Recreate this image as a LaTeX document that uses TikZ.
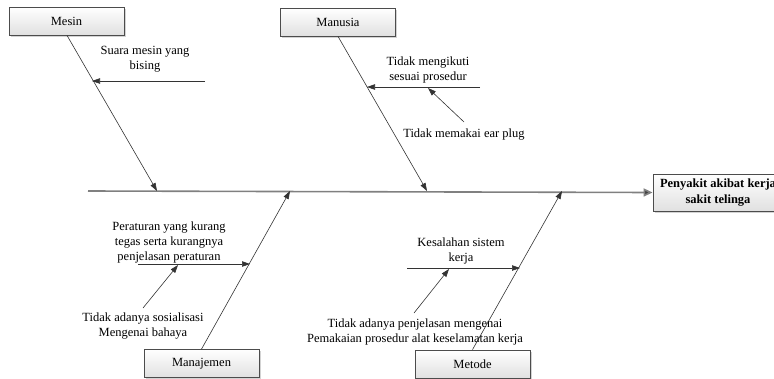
\documentclass[tikz,border=0pt]{standalone}
\usepackage{fontspec}
\setmainfont{Liberation Serif}
\usetikzlibrary{arrows.meta,shadows}
\begin{document}
\begin{tikzpicture}[x=1pt,y=-1pt,
  catbox/.style={draw=black!70, line width=0.8pt, top color=white, bottom color=black!12,
    drop shadow={shadow xshift=1.5pt, shadow yshift=-1.5pt, opacity=0.35},
    minimum width=115pt, minimum height=28pt, inner sep=0pt, font=\fontsize{12.5}{15}\selectfont},
  lbl/.style={align=center, inner sep=0pt, font=\fontsize{12.5}{15}\selectfont},
  bone/.style={draw=black!80, line width=0.6pt, -{Triangle[length=8pt,width=5.5pt]}},
  spine/.style={draw=black!50, line width=1.6pt, -{Triangle[length=9pt,width=8pt,fill=black!75]}},
]
\useasboundingbox (0,0) rectangle (774,378);
% category boxes
\node[catbox] (mesin) at (66.5,21) {Mesin};
\node[catbox] (manusia) at (338,22) {Manusia};
\node[catbox] (manajemen) at (201.5,363.5) {Manajemen};
\node[catbox] (metode) at (472.5,364) {Metode};
\node[catbox, minimum width=130pt, minimum height=37pt, font=\bfseries\fontsize{12.5}{16}\selectfont, align=center] (effect) at (718,192.5) {Penyakit akibat kerja\\sakit telinga};
% spine
\coordinate (s0) at (88,191);
\draw[spine] (s0) -- (effect.west);
% main bones
\coordinate (t1) at (157,191);
\coordinate (t2) at (427,191);
\coordinate (t3) at (290,191);
\coordinate (t4) at (562,191);
\draw[bone] (mesin.south) ++(0.5,0) coordinate (m0) -- (t1);
\draw[bone] (manusia.south) -- (t2);
\draw[bone] (manajemen.north) -- (t3);
\draw[bone] (metode.north) -- (t4);
% Mesin causes
\node[lbl] (c1) at (145,59.5) {Suara mesin yang\\bising};
\coordinate (a1s) at (205,81);
\coordinate (a1e) at (92,81);
\draw[bone] (a1s) -- (a1e);
% Manusia causes
\node[lbl] (c2) at (428,70) {Tidak mengikuti\\sesuai prosedur};
\coordinate (a2s) at (480,87);
\coordinate (a2e) at (367,87);
\draw[bone] (a2s) -- (a2e);
\node[lbl] (c3) at (464,135) {Tidak memakai ear plug};
\coordinate (a3s) at (464,122);
\coordinate (a3e) at (428,88);
\draw[bone] (a3s) -- (a3e);
% Manajemen causes
\node[lbl] (c4) at (169,242) {Peraturan yang kurang\\tegas serta kurangnya\\penjelasan peraturan};
\coordinate (a4s) at (138,264);
\coordinate (a4e) at (250,264);
\draw[bone] (a4s) -- (a4e);
\node[lbl] (c5) at (143,326) {Tidak adanya sosialisasi\\Mengenai bahaya};
\coordinate (a5s) at (143,308);
\coordinate (a5e) at (178,265);
\draw[bone] (a5s) -- (a5e);
% Metode causes
\node[lbl] (c6) at (461,251) {Kesalahan sistem\\kerja};
\coordinate (a6s) at (407,268);
\coordinate (a6e) at (520,268);
\draw[bone] (a6s) -- (a6e);
\node[lbl] (c7) at (415,332) {Tidak adanya penjelasan mengenai\\Pemakaian prosedur alat keselamatan kerja};
\coordinate (a7s) at (414,313);
\coordinate (a7e) at (449,269);
\draw[bone] (a7s) -- (a7e);
\end{tikzpicture}
\end{document}
